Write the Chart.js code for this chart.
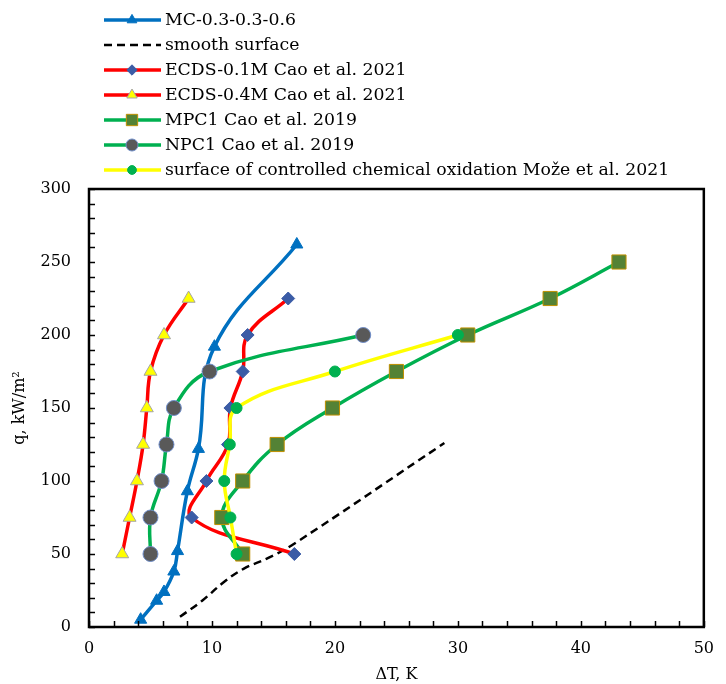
<!DOCTYPE html>
<html>
<head>
<meta charset="utf-8">
<script src="https://cdn.jsdelivr.net/npm/chart.js@4"></script>
<style>
  html, body { margin: 0; padding: 0; background: #fff; }
  #wrap { width: 726px; height: 684px; }
</style>
</head>
<body>
<div id="wrap"><canvas id="chart" width="726" height="684"></canvas></div>
<script>
// values (x = ΔT in K, y = q in kW/m2)
const mcX = [4.2, 5.5, 6.1, 6.9, 7.2, 8.0, 8.9, 10.2, 16.9];
const mcY = [5, 18, 24, 38, 52, 93, 122, 192, 262];

const smoothX = [7.4, 9.2, 11.0, 12.6, 14.5, 16.5, 28.9];
const smoothY = [7, 18, 31, 40, 47, 56, 126];

const ecds01X = [16.7, 8.35, 9.55, 11.3, 11.5, 12.5, 12.9, 16.2];
const ecds01Y = [50, 75, 100, 125, 150, 175, 200, 225];

const ecds04X = [2.7, 3.3, 3.9, 4.4, 4.7, 5.0, 6.1, 8.1];
const ecds04Y = [50, 75, 100, 125, 150, 175, 200, 225];

const mpcX = [12.5, 10.8, 12.5, 15.3, 19.8, 25.0, 30.8, 37.5, 43.1];
const mpcY = [50, 75, 100, 125, 150, 175, 200, 225, 250];

const npcX = [5.0, 5.0, 5.9, 6.3, 6.9, 9.8, 22.3];
const npcY = [50, 75, 100, 125, 150, 175, 200];

const oxX = [12.0, 11.5, 11.0, 11.45, 12.0, 20.0, 30.0];
const oxY = [50, 75, 100, 125, 150, 175, 200];

const seriesNames = [
	"MC-0.3-0.3-0.6",
	"smooth surface",
	"ECDS-0.1M Cao et al. 2021",
	"ECDS-0.4M Cao et al. 2021",
	"MPC1 Cao et al. 2019",
	"NPC1 Cao et al. 2019",
	"surface of controlled chemical oxidation Može et al. 2021",
];

const xTickLabels = [0, 10, 20, 30, 40, 50];
const yTickLabels = [0, 50, 100, 150, 200, 250, 300];

const FONT = "'DejaVu Serif', serif";

function pts(xs, ys) {
	return xs.map((x, i) => ({ x: x, y: ys[i] }));
}

function series(idx, xs, ys, style) {
	return Object.assign(
		{
			label: seriesNames[idx],
			data: pts(xs, ys),
			borderWidth: 3.5,
			tension: 0.4,
			pointBorderWidth: 1,
			order: 10 - idx,
		},
		style
	);
}

const datasets = [
	series(0, mcX, mcY, {
		borderColor: "#0070C0",
		pointStyle: "triangle",
		pointRadius: 7,
		pointBackgroundColor: "#0070C0",
		pointBorderColor: "#0070C0",
	}),
	series(1, smoothX, smoothY, {
		borderColor: "#000000",
		borderWidth: 2.5,
		borderDash: [8, 5],
		pointRadius: 0,
	}),
	series(2, ecds01X, ecds01Y, {
		borderColor: "#FF0000",
		pointStyle: "rectRot",
		pointRadius: 6.5,
		pointBackgroundColor: "#3B5CA6",
		pointBorderColor: "#3B5CA6",
	}),
	series(3, ecds04X, ecds04Y, {
		borderColor: "#FF0000",
		pointStyle: "triangle",
		pointRadius: 7.5,
		pointBackgroundColor: "#FFFF00",
		pointBorderColor: "#A5A5A5",
	}),
	series(4, mpcX, mpcY, {
		borderColor: "#00B050",
		pointStyle: "rect",
		pointRadius: 10,
		pointBackgroundColor: "#548235",
		pointBorderColor: "#BF9000",
	}),
	series(5, npcX, npcY, {
		borderColor: "#00B050",
		pointStyle: "circle",
		pointRadius: 7.5,
		pointBackgroundColor: "#595959",
		pointBorderColor: "#6F8DC8",
	}),
	series(6, oxX, oxY, {
		borderColor: "#FFFF00",
		pointStyle: "circle",
		pointRadius: 5.5,
		pointBackgroundColor: "#00B050",
		pointBorderColor: "#00B050",
	}),
];

// frame, inward tick marks and the legend block
const framePlugin = {
	id: "frame",
	afterDraw(chart) {
		const ctx = chart.ctx;
		const a = chart.chartArea;
		ctx.save();
		ctx.strokeStyle = "#000";
		ctx.lineWidth = 1.5;
		chart.scales.x.ticks.forEach((t) => {
			const px = Math.round(chart.scales.x.getPixelForValue(t.value)) + 0.5;
			ctx.beginPath();
			ctx.moveTo(px, a.bottom);
			ctx.lineTo(px, a.bottom - 6);
			ctx.stroke();
		});
		chart.scales.y.ticks.forEach((t) => {
			const py = Math.round(chart.scales.y.getPixelForValue(t.value)) + 0.5;
			ctx.beginPath();
			ctx.moveTo(a.left, py);
			ctx.lineTo(a.left + 6, py);
			ctx.stroke();
		});
		ctx.lineWidth = 2.5;
		ctx.strokeRect(a.left, a.top, a.right - a.left, a.bottom - a.top);

		// legend
		chart.data.datasets.forEach((ds, i) => {
			const y = 20 + i * 25;
			ctx.save();
			ctx.strokeStyle = ds.borderColor;
			ctx.lineWidth = ds.borderWidth;
			ctx.setLineDash(ds.borderDash || []);
			ctx.beginPath();
			ctx.moveTo(104, y);
			ctx.lineTo(161, y);
			ctx.stroke();
			ctx.restore();
			if (ds.pointRadius > 0) {
				ctx.save();
				ctx.fillStyle = ds.pointBackgroundColor;
				ctx.strokeStyle = ds.pointBorderColor;
				ctx.lineWidth = 1;
				Chart.helpers.drawPoint(
					ctx,
					{ pointStyle: ds.pointStyle, radius: ds.pointRadius * 0.8, rotation: 0, borderWidth: 1 },
					132,
					y
				);
				ctx.restore();
			}
			ctx.fillStyle = "#000";
			ctx.font = "17.3px " + FONT;
			ctx.textAlign = "left";
			ctx.textBaseline = "middle";
			ctx.fillText(ds.label, 165, y + 1);
		});
		ctx.restore();
	},
};

new Chart(document.getElementById("chart"), {
	type: "line",
	data: { datasets: datasets },
	options: {
		responsive: false,
		animation: false,
		layout: { padding: { top: 189, right: 12, left: 0, bottom: 0 } },
		plugins: {
			legend: { display: false },
			tooltip: { enabled: false },
		},
		scales: {
			x: {
				type: "linear",
				min: 0,
				max: 50,
				afterFit: (s) => { s.height = 57; },
				grid: { display: false, drawTicks: false },
				border: { display: false },
				ticks: {
					stepSize: 2,
					padding: 12,
					color: "#000",
					font: { family: FONT, size: 16 },
					maxRotation: 0,
					autoSkip: false,
					callback: (v) => (xTickLabels.includes(v) ? String(v) : ""),
				},
				title: {
					display: true,
					text: "ΔT, K",
					color: "#000",
					font: { family: FONT, size: 16 },
					padding: { top: 0, bottom: 0 },
				},
			},
			y: {
				type: "linear",
				min: 0,
				max: 300,
				afterFit: (s) => { s.width = 89; },
				grid: { display: false, drawTicks: false },
				border: { display: false },
				ticks: {
					stepSize: 10,
					padding: 18,
					color: "#000",
					font: { family: FONT, size: 16 },
					autoSkip: false,
					callback: (v) => (yTickLabels.includes(v) ? String(v) : ""),
				},
				title: {
					display: true,
					text: "q, kW/m²",
					color: "#000",
					font: { family: FONT, size: 16 },
					padding: { top: 10, bottom: 0 },
				},
			},
		},
	},
	plugins: [framePlugin],
});
</script>
</body>
</html>
